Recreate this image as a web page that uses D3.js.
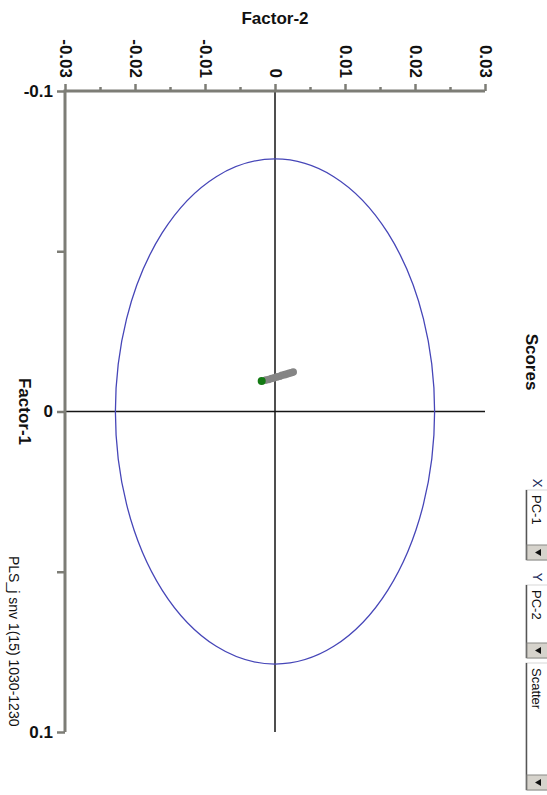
<!DOCTYPE html>
<html>
<head>
<meta charset="utf-8">
<script src="https://cdn.jsdelivr.net/npm/d3@7"></script>
<style>
  body { margin: 0; background: #fff; }
  svg { display: block; font-family: "Liberation Sans", Arial, sans-serif; }
</style>
</head>
<body>
<svg id="chart" width="547" height="795"></svg>
<script>
(function () {
  'use strict';

  // ── Data ──────────────────────────────────────────────────────────────────
  var factor1Ticks  = [-0.1, -0.05, 0, 0.05, 0.1];
  var factor1Labels = { '-0.1': '-0.1', '0': '0', '0.1': '0.1' };
  var factor2Ticks  = [-0.03, -0.025, -0.02, -0.015, -0.01, -0.005, 0, 0.005, 0.01, 0.015, 0.02, 0.025, 0.03];
  var factor2Labels = { '-0.03': '-0.03', '-0.02': '-0.02', '-0.01': '-0.01', '0': '0', '0.01': '0.01', '0.02': '0.02', '0.03': '0.03' };

  // Hotelling ellipse half-axes (Factor-1, Factor-2)
  var ellipseF1 = 0.0788;
  var ellipseF2 = 0.0228;

  // sample scores
  var scoresF1 = [-0.0098, -0.0100, -0.0103, -0.0105, -0.0108, -0.0110, -0.0113, -0.0115, -0.0117, -0.0119, -0.0121, -0.0123];
  var scoresF2 = [-0.0013, -0.0009, -0.0005, -0.0001, 0.0003, 0.0007, 0.0010, 0.0014, 0.0017, 0.0020, 0.0023, 0.0026];
  var markedF1 = [-0.0095];
  var markedF2 = [-0.0019];

  var comboLabels = ['X', 'Y', ''];
  var comboValues = ['PC-1', 'PC-2', 'Scatter'];

  // ── Scales (chart is shown turned a quarter clockwise) ───────────────────
  var svg = d3.select('#chart');
  var y = d3.scaleLinear().domain([-0.1, 0.1]).range([91, 732]);    // Factor-1
  var x = d3.scaleLinear().domain([-0.03, 0.03]).range([65, 485]);  // Factor-2
  var axisColor = '#7d7d76';

  function rotText(tx, ty, str, size, weight, anchor) {
    return svg.append('text')
      .attr('transform', 'translate(' + tx + ',' + ty + ') rotate(90)')
      .attr('text-anchor', anchor || 'middle')
      .attr('font-size', size)
      .attr('font-weight', weight || 'normal')
      .attr('fill', '#111')
      .text(str);
  }

  // ── Crosshair + ellipse ───────────────────────────────────────────────────
  svg.append('line')
    .attr('x1', x(0)).attr('x2', x(0)).attr('y1', y(-0.1)).attr('y2', y(0.1))
    .attr('stroke', '#151515').attr('stroke-width', 1.5);
  svg.append('line')
    .attr('x1', x(-0.03)).attr('x2', x(0.03)).attr('y1', y(0)).attr('y2', y(0))
    .attr('stroke', '#151515').attr('stroke-width', 1.5);

  svg.append('ellipse')
    .attr('cx', x(0)).attr('cy', y(0))
    .attr('rx', x(ellipseF2) - x(0)).attr('ry', y(ellipseF1) - y(0))
    .attr('fill', 'none').attr('stroke', '#4646b8').attr('stroke-width', 1.3);

  // ── Axes ──────────────────────────────────────────────────────────────────
  var topAxis = d3.axisTop(x)
    .tickValues(factor2Ticks)
    .tickSizeOuter(0)
    .tickFormat(function (d) { return factor2Labels[String(+d.toFixed(3))] || ''; });
  var gTop = svg.append('g').attr('transform', 'translate(0,' + y(-0.1) + ')').call(topAxis);
  gTop.select('.domain').remove();
  gTop.selectAll('.tick line')
    .attr('stroke', axisColor).attr('stroke-width', 2.5)
    .attr('y2', function (d) { return factor2Labels[String(+d.toFixed(3))] ? -7 : -4; });
  gTop.selectAll('.tick text')
    .attr('transform', 'rotate(90)')
    .attr('x', -13).attr('y', 0).attr('dy', '0.35em')
    .attr('text-anchor', 'end')
    .attr('font-size', 17).attr('font-weight', 'bold')
    .attr('font-family', '"Liberation Sans", Arial, sans-serif')
    .attr('fill', '#111');

  var leftAxis = d3.axisLeft(y)
    .tickValues(factor1Ticks)
    .tickSizeOuter(0)
    .tickSize(8)
    .tickFormat(function (d) { return factor1Labels[String(+d.toFixed(3))] || ''; });
  var gLeft = svg.append('g').attr('transform', 'translate(' + x(-0.03) + ',0)').call(leftAxis);
  gLeft.select('.domain').remove();
  gLeft.selectAll('.tick line').attr('stroke', axisColor).attr('stroke-width', 2.5);
  gLeft.selectAll('.tick text')
    .attr('x', -12)
    .attr('font-size', 17).attr('font-weight', 'bold')
    .attr('font-family', '"Liberation Sans", Arial, sans-serif')
    .attr('fill', '#111');

  svg.append('path')
    .attr('d', 'M' + x(-0.03) + ',' + y(0.1) + 'V' + y(-0.1) + 'H' + x(0.03))
    .attr('fill', 'none').attr('stroke', axisColor).attr('stroke-width', 3);

  // ── Points ────────────────────────────────────────────────────────────────
  svg.append('g').selectAll('circle')
    .data(d3.range(scoresF1.length)).join('circle')
    .attr('cx', function (i) { return x(scoresF2[i]); })
    .attr('cy', function (i) { return y(scoresF1[i]); })
    .attr('r', 3.8)
    .attr('fill', '#858585');
  svg.append('g').selectAll('circle')
    .data(d3.range(markedF1.length)).join('circle')
    .attr('cx', function (i) { return x(markedF2[i]); })
    .attr('cy', function (i) { return y(markedF1[i]); })
    .attr('r', 4)
    .attr('fill', '#137a13');

  // ── Titles ────────────────────────────────────────────────────────────────
  svg.append('text')
    .attr('x', x(0)).attr('y', 24)
    .attr('text-anchor', 'middle')
    .attr('font-size', 17).attr('font-weight', 'bold').attr('fill', '#111')
    .text('Factor-2');
  rotText(19, y(0), 'Factor-1', 17, 'bold');
  rotText(526, 362, 'Scores', 17, 'bold');
  rotText(9, 556, 'PLS_j snv 1(15) 1030-1230', 14, 'normal', 'start');

  // ── Plot selector controls ────────────────────────────────────────────────
  var combos = [
    { lab: 483, top: 490, btn: 545, bottom: 560 },
    { lab: 577, top: 585, btn: 643, bottom: 658 },
    { lab: 0,   top: 663, btn: 775, bottom: 790 }
  ];
  combos.forEach(function (c, i) {
    var g = svg.append('g');
    g.append('rect')
      .attr('x', 526).attr('y', c.top).attr('width', 24).attr('height', c.bottom - c.top)
      .attr('fill', '#fff').attr('stroke', '#d8d8d8').attr('stroke-width', 1);
    g.append('line')
      .attr('x1', 526.5).attr('x2', 526.5).attr('y1', c.top).attr('y2', c.bottom)
      .attr('stroke', '#555').attr('stroke-width', 1.5);
    g.append('rect')
      .attr('x', 527).attr('y', c.btn).attr('width', 22).attr('height', c.bottom - c.btn)
      .attr('fill', '#d6d3cc').attr('stroke', '#8a8a86').attr('stroke-width', 1);
    var cy = (c.btn + c.bottom) / 2;
    g.append('path')
      .attr('d', 'M535,' + cy + 'L541,' + (cy - 3.5) + 'L541,' + (cy + 3.5) + 'Z')
      .attr('fill', '#111');
    rotText(532, c.top + 5, comboValues[i], 13, 'normal', 'start');
    if (comboLabels[i]) {
      svg.append('text')
        .attr('transform', 'translate(533,' + c.lab + ') rotate(90)')
        .attr('text-anchor', 'middle')
        .attr('font-size', 13)
        .attr('fill', '#1a2a5a')
        .text(comboLabels[i]);
    }
  });
})();
</script>
</body>
</html>
